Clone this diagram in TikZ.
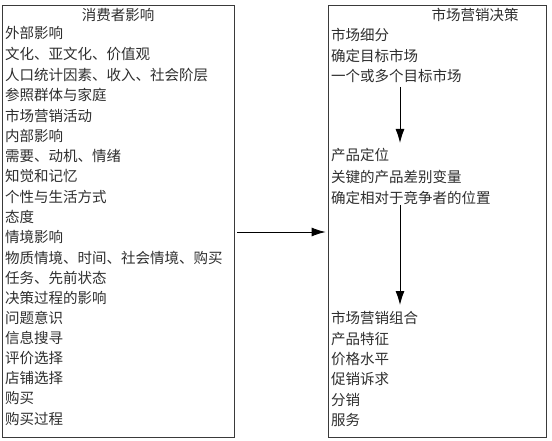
\documentclass[tikz,border=0pt]{standalone}
\usepackage{fontspec}
\setmainfont{Noto Sans CJK SC}
\usetikzlibrary{arrows.meta,calc}
\definecolor{txt}{HTML}{2E2E2E}
\definecolor{frame}{HTML}{3A3A3A}
\tikzset{
  box/.style={draw=frame, line width=0.9pt, inner sep=0pt},
  item/.style={anchor=west, inner sep=0pt, text=txt, font=\fontsize{14.5pt}{16pt}\selectfont},
  ttl/.style={inner sep=0pt, text=txt, font=\fontsize{14.5pt}{16pt}\selectfont},
  arr/.style={draw=black, line width=0.9pt, -{Latex[length=14pt,width=9pt]}}
}
\begin{document}
\begin{tikzpicture}[x=1pt,y=-1pt]
\useasboundingbox (0,0) rectangle (552,441);
\node[box, minimum width=232pt, minimum height=432pt] (L) at (118,221) {};
\node[box, minimum width=218pt, minimum height=432pt] (R) at (437,221) {};
\node[ttl] (lt) at (118,15) {消费者影响};
\node[ttl] (rt) at (475,15) {市场营销决策};
% left items
\node[item] (l1) at (5,33) {外部影响};
\node[item] (l2) at (5,54) {文化、亚文化、价值观};
\node[item] (l3) at (5,75) {人口统计因素、收入、社会阶层};
\node[item] (l4) at (5,95) {参照群体与家庭};
\node[item] (l5) at (5,116) {市场营销活动};
\node[item] (l6) at (5,136) {内部影响};
\node[item] (l7) at (5,156) {需要、动机、情绪};
\node[item] (l8) at (5,176) {知觉和记忆};
\node[item] (l9) at (5,197) {个性与生活方式};
\node[item] (l10) at (5,217) {态度};
\node[item] (l11) at (5,237) {情境影响};
\node[item] (l12) at (5,258) {物质情境、时间、社会情境、购买};
\node[item] (l13) at (5,278) {任务、先前状态};
\node[item] (l14) at (5,298) {决策过程的影响};
\node[item] (l15) at (5,318) {问题意识};
\node[item] (l16) at (5,338) {信息搜寻};
\node[item] (l17) at (5,358) {评价选择};
\node[item] (l18) at (5,378) {店铺选择};
\node[item] (l19) at (5,398) {购买};
\node[item] (l20) at (5,419) {购买过程};
% right items
\node[item] (r1) at (331,35) {市场细分};
\node[item] (r2) at (331,56) {确定目标市场};
\node[item] (r3) at (331,76) {一个或多个目标市场};
\node[item] (r4) at (331,155) {产品定位};
\node[item] (r5) at (331,177) {关键的产品差别变量};
\node[item] (r6) at (331,198) {确定相对于竞争者的位置};
\node[item] (r7) at (331,318) {市场营销组合};
\node[item] (r8) at (331,339) {产品特征};
\node[item] (r9) at (331,359) {价格水平};
\node[item] (r10) at (331,379) {促销诉求};
\node[item] (r11) at (331,400) {分销};
\node[item] (r12) at (331,420) {服务};
\coordinate (ax) at (400,0);
% connectors
\draw[arr] ($(L.east)+(3,11)$) -- ($(R.west)+(-2,11)$);
\draw[arr] ($(r3.center -| ax)+(0,11)$) -- ($(r4.center -| ax)+(0,-12)$);
\draw[arr] ($(r6.center -| ax)+(0,7)$) -- ($(r7.center -| ax)+(0,-13)$);
\end{tikzpicture}
\end{document}
